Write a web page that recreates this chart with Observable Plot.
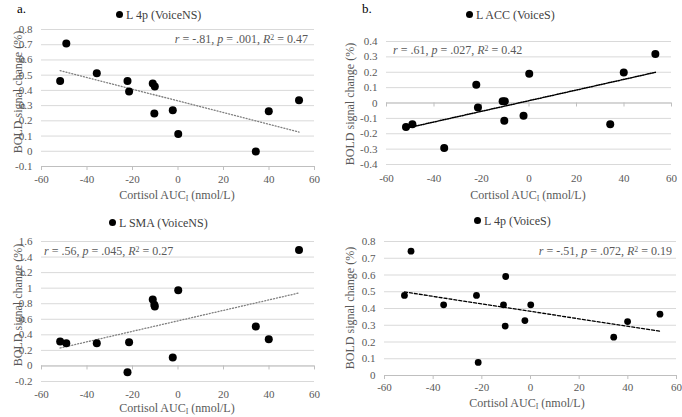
<!DOCTYPE html>
<html>
<head>
<meta charset="utf-8">
<script src="https://cdn.jsdelivr.net/npm/d3@7"></script>
<script src="https://cdn.jsdelivr.net/npm/@observablehq/plot@0.6"></script>
<style>
  body { margin: 0; background: #fff; }
  #root { position: relative; width: 682px; height: 417px; font-family: "Liberation Serif", "Times New Roman", Times, "DejaVu Serif", serif; overflow: hidden; }
  .panel { position: absolute; }
  .lbl { position: absolute; white-space: nowrap; line-height: 1; }
  .dotm { display: inline-block; width: 7px; height: 7px; border-radius: 50%; background: #000; margin-right: 3px; vertical-align: 1px; }
  sub { font-size: 65%; vertical-align: -0.25em; line-height: 0; }
  sup { font-size: 65%; vertical-align: 0.45em; line-height: 0; }
  svg text { font-family: "Liberation Serif", "Times New Roman", Times, "DejaVu Serif", serif; }
</style>
</head>
<body>
<div id="root"></div>
<script>
// ---- data ----
const cortisol = [-51.8, -49.1, -35.7, -22.2, -21.5, -11.1, -10.4, -10.2, -2.3, 0.1, 34.2, 39.9, 53.2];
const l4pVoiceNS = [0.461, 0.708, 0.512, 0.461, 0.393, 0.446, 0.248, 0.426, 0.270, 0.113, -0.001, 0.263, 0.336];
const lAccVoiceS = [-0.156, -0.139, -0.292, 0.118, -0.029, 0.012, -0.115, 0.012, -0.083, 0.191, -0.139, 0.199, 0.318];
const lSmaVoiceNS = [0.314, 0.293, 0.293, -0.080, 0.306, 0.854, 0.786, 0.763, 0.108, 0.974, 0.507, 0.344, 1.492];
const l4pVoiceS = [0.478, 0.742, 0.422, 0.478, 0.078, 0.422, 0.295, 0.591, 0.328, 0.422, 0.229, 0.322, 0.366];

const xTicks = [-60, -40, -20, 0, 20, 40, 60];
const yTicksA = [-0.1, 0, 0.1, 0.2, 0.3, 0.4, 0.5, 0.6, 0.7, 0.8];
const yTicksB = [-0.4, -0.3, -0.2, -0.1, 0, 0.1, 0.2, 0.3, 0.4];
const yTicksC = [-0.2, 0, 0.2, 0.4, 0.6, 0.8, 1, 1.2, 1.4, 1.6];
const yTicksD = [0, 0.1, 0.2, 0.3, 0.4, 0.5, 0.6, 0.7, 0.8];

const titles = ["L 4p (VoiceNS)", "L ACC (VoiceS)", "L SMA (VoiceNS)", "L 4p (VoiceS)"];
const stats = [
  {r: "-.81", p: ".001", R2: "0.47"},
  {r: ".61", p: ".027", R2: "0.42"},
  {r: ".56", p: ".045", R2: "0.27"},
  {r: "-.51", p: ".072", R2: "0.19"}
];
const xLabel = "Cortisol AUC<sub>I</sub> (nmol/L)";
const yLabel = "BOLD signal change (%)";

// ---- helpers ----
const FONT = "'Liberation Serif', 'Times New Roman', Times, 'DejaVu Serif', serif";
const fmt = d => { const v = Math.round(d * 10) / 10; return (v === 0) ? "0" : String(v); };
const root = document.getElementById("root");

function label(html, x, y, opts = {}) {
  const el = document.createElement("div");
  el.className = "lbl";
  el.innerHTML = html;
  el.style.left = x + "px";
  el.style.top = y + "px";
  el.style.fontSize = (opts.size || 12) + "px";
  el.style.color = opts.color || "#595959";
  const ax = opts.align === "left" ? "0%" : opts.align === "right" ? "-100%" : "-50%";
  el.style.transform = `translate(${ax}, -50%)`;
  root.appendChild(el);
  return el;
}

function panel(cfg) {
  const data = cortisol.map((x, i) => ({x, y: cfg.values[i]}));
  const chart = Plot.plot({
    width: cfg.width,
    height: cfg.height,
    marginLeft: cfg.ml, marginRight: cfg.mr, marginTop: cfg.mt, marginBottom: cfg.mb,
    style: {fontFamily: FONT, fontSize: "11px", color: "#595959", background: "transparent", overflow: "visible"},
    x: {domain: [-60, 60]},
    y: {domain: [cfg.yTicks[0], cfg.yTicks[cfg.yTicks.length - 1]]},
    marks: [
      Plot.gridY(cfg.yTicks, {stroke: "#d9d9d9", strokeOpacity: 1}),
      Plot.axisY(cfg.yTicks, {tickSize: 0, tickPadding: 9, tickFormat: fmt, label: null, fill: "#595959"}),
      Plot.axisX(xTicks, {tickSize: 0, tickPadding: cfg.padX, tickFormat: fmt, label: null, fill: "#595959"}),
      Plot.ruleY([cfg.axisAt], {stroke: "#bfbfbf"}),
      Plot.ruleX(xTicks, {x: d => d, y1: () => cfg.axisAt, y2: () => cfg.axisAt, stroke: "#bfbfbf", insetBottom: -4}),
      Plot.linearRegressionY(data, {x: "x", y: "y", ci: 0, stroke: cfg.trend, strokeWidth: cfg.sw, strokeDasharray: cfg.dash}),
      Plot.dot(data, {x: "x", y: "y", r: cfg.r, fill: "#000", stroke: "none"})
    ]
  });
  const wrap = document.createElement("div");
  wrap.className = "panel";
  wrap.style.left = cfg.left + "px";
  wrap.style.top = cfg.top + "px";
  wrap.appendChild(chart);
  root.appendChild(wrap);
}

panel({values: l4pVoiceNS, yTicks: yTicksA, axisAt: -0.1, left: 0, top: 0, width: 340, height: 205,
       ml: 41, mr: 26, mt: 29, mb: 39, padX: 9, trend: "#7f7f7f", sw: 1.3, dash: "1,2", r: 4});
panel({values: lAccVoiceS, yTicks: yTicksB, axisAt: 0, left: 340, top: 0, width: 342, height: 205,
       ml: 46, mr: 11, mt: 41, mb: 41, padX: 10, trend: "#000", sw: 1.5, dash: "1.2,1.3", r: 4});
panel({values: lSmaVoiceNS, yTicks: yTicksC, axisAt: 0, left: 0, top: 205, width: 340, height: 212,
       ml: 41, mr: 26, mt: 36, mb: 36, padX: 9, trend: "#7f7f7f", sw: 1.3, dash: "1,2", r: 4});
panel({values: l4pVoiceS, yTicks: yTicksD, axisAt: 0, left: 340, top: 205, width: 342, height: 212,
       ml: 44, mr: 6, mt: 36, mb: 42, padX: 8, trend: "#000", sw: 1.3, dash: "3,2", r: 3.4});

// ---- text ----
const statHtml = s => `<i>r</i> = ${s.r}, <i>p</i> = ${s.p}, <i>R</i><sup>2</sup> = ${s.R2}`;

label("a.", 17, 8, {align: "left", size: 13, color: "#000"});
label("b.", 362, 8, {align: "left", size: 13, color: "#000"});

const titlePos = [[116, 15], [466, 15], [109, 223], [474, 221]];
titles.forEach((t, i) => label(`<span class="dotm"></span>${t}`, titlePos[i][0], titlePos[i][1], {align: "left", size: 12, color: "#404040"}));

label(statHtml(stats[0]), 308, 39, {align: "right", size: 12});
label(statHtml(stats[1]), 393, 50, {align: "left", size: 12});
label(statHtml(stats[2]), 44, 251, {align: "left", size: 12});
label(statHtml(stats[3]), 672, 251, {align: "right", size: 12});

const xLabPos = [[177, 195], [528, 195], [177, 408], [527, 403]];
xLabPos.forEach(p => label(xLabel, p[0], p[1], {size: 12}));

function yLab(x, y) {
  const el = document.createElement("div");
  el.className = "lbl";
  el.textContent = yLabel;
  el.style.fontSize = "12px";
  el.style.color = "#595959";
  el.style.left = x + "px";
  el.style.top = y + "px";
  el.style.transform = "translate(-50%, -50%) rotate(-90deg)";
  root.appendChild(el);
}
yLab(18, 92); yLab(350, 104); yLab(18, 305); yLab(350, 308);
</script>
</body>
</html>
